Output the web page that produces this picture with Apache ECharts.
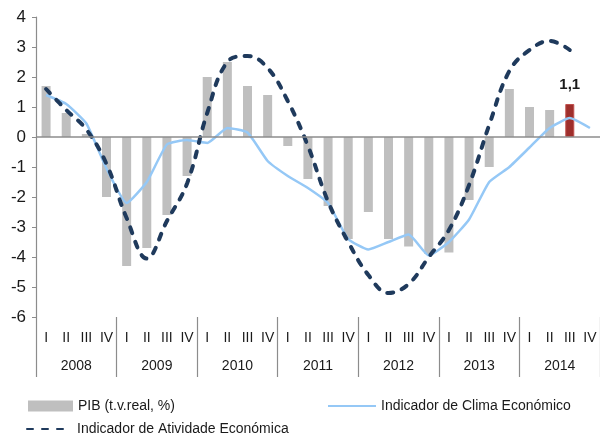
<!DOCTYPE html>
<html>
<head>
<meta charset="utf-8">
<script src="https://cdn.jsdelivr.net/npm/echarts@6/dist/echarts.min.js"></script>
<style>
html,body{margin:0;padding:0;background:#fff;}
#chart{width:600px;height:437px;}
</style>
</head>
<body>
<div id="chart"></div>
<script>
var years = ['2008','2009','2010','2011','2012','2013','2014'];
var quarters = [
 'I','II','III','IV','I','II','III','IV','I','II','III','IV','I','II','III','IV',
 'I','II','III','IV','I','II','III','IV','I','II','III','IV'
];
var pib = [1.7, 0.8, 0.1, -2.0, -4.3, -3.7, -2.6, -1.3, 2.0, 2.5, 1.7, 1.4,
           -0.3, -1.4, -2.3, -3.4, -2.5, -3.4, -3.65, -3.9, -3.85, -2.1, -1.0, 1.6,
           1.0, 0.9, 1.1, null];
var clima = [1.4, 1.1, 0.45, -1.05, -2.2, -1.5, -0.25, -0.1, -0.2, 0.3, 0.15, -0.8,
             -1.3, -1.7, -2.2, -3.4, -3.75, -3.5, -3.25, -3.95, -3.5, -2.75, -1.5, -1.0,
             -0.35, 0.3, 0.63, 0.3];
var atividade = [1.6, 0.9, 0.25, -0.9, -2.7, -4.05, -2.8, -1.55, 0.8, 2.5, 2.7, 2.3,
                 1.2, -0.3, -2.15, -3.5, -4.6, -5.2, -4.9, -4.0, -3.1, -1.6, 0.4, 2.2,
                 2.9, 3.2, 2.9, null];
var highlightIndex = 26;
var seriesNames = ['PIB (t.v.real, %)', 'Indicador de Clima Económico', 'Indicador de Atividade Económica'];

var FONT = "'Liberation Sans', Arial, sans-serif";
var TXT = '#1a1a1a';

var chart = echarts.init(document.getElementById('chart'));
var pibData = pib.map(function (v, i) {
  if (i === highlightIndex) {
    return {
      value: v,
      itemStyle: { color: '#9E2F2C', borderColor: '#C0504D', borderWidth: 1 },
      label: {
        show: true, position: 'top', distance: 12,
        fontFamily: FONT, fontSize: 15, fontWeight: 'bold', color: TXT,
        formatter: function (p) { return String(p.value).replace('.', ','); }
      }
    };
  }
  return v;
});

var legendText = { fontFamily: FONT, fontSize: 14, color: TXT };
chart.setOption({
  animation: false,
  backgroundColor: '#fff',
  grid: { left: 36, top: 17, width: 569, height: 300, containLabel: false },
  legend: [
    { data: [{ name: seriesNames[0], icon: 'rect' }], left: 28, top: 399, padding: 0, itemWidth: 45, itemHeight: 11, itemGap: 4,
      textStyle: legendText },
    { data: [seriesNames[1]], left: 327, top: 399, padding: 0, itemWidth: 48, itemHeight: 11,
      textStyle: legendText },
    { data: [seriesNames[2]], left: 26, top: 422, padding: 0, itemWidth: 45, itemHeight: 11,
      textStyle: legendText }
  ],
  xAxis: [
    {
      type: 'category', data: quarters, position: 'bottom', gridIndex: 0,
      axisLine: { show: false }, axisTick: { show: false },
      axisLabel: { interval: 0, margin: 14, fontFamily: FONT, fontSize: 14, color: TXT }
    },
    {
      type: 'category', data: years, position: 'bottom', gridIndex: 0,
      axisLine: { show: false },
      axisTick: { show: true, length: 60, interval: 0, lineStyle: { color: '#8c8c8c', width: 1.2 } },
      axisLabel: { interval: 0, margin: 42, fontFamily: FONT, fontSize: 14, color: TXT }
    }
  ],
  yAxis: {
    type: 'value', min: -6, max: 4, interval: 1,
    axisLine: { show: true, lineStyle: { color: '#8c8c8c', width: 1.2 } },
    axisTick: { show: true, length: 4, lineStyle: { color: '#8c8c8c' } },
    splitLine: { show: false },
    axisLabel: { margin: 10, fontFamily: FONT, fontSize: 17, color: TXT }
  },
  series: [
    {
      name: seriesNames[0], type: 'bar', xAxisIndex: 0, data: pibData, barWidth: 9,
      itemStyle: { color: '#BFBFBF' },
      markLine: {
        silent: true, symbol: 'none', label: { show: false },
        lineStyle: { color: '#8c8c8c', width: 1.5, type: 'solid' },
        data: [{ yAxis: 0 }]
      },
      z: 1
    },
    {
      name: seriesNames[1], type: 'line', xAxisIndex: 0, data: clima,
      symbol: 'none', smooth: 0.15,
      lineStyle: { color: '#95C8F6', width: 2.5 },
      itemStyle: { color: '#95C8F6', opacity: 0 },
      z: 3
    },
    {
      name: seriesNames[2], type: 'line', xAxisIndex: 0, data: atividade,
      symbol: 'none', smooth: 0.4,
      lineStyle: { color: '#1F3A5C', width: 4, type: [6, 9], cap: 'round' },
      itemStyle: { color: '#1F3A5C', opacity: 0 },
      z: 4
    }
  ]
});
</script>
</body>
</html>
